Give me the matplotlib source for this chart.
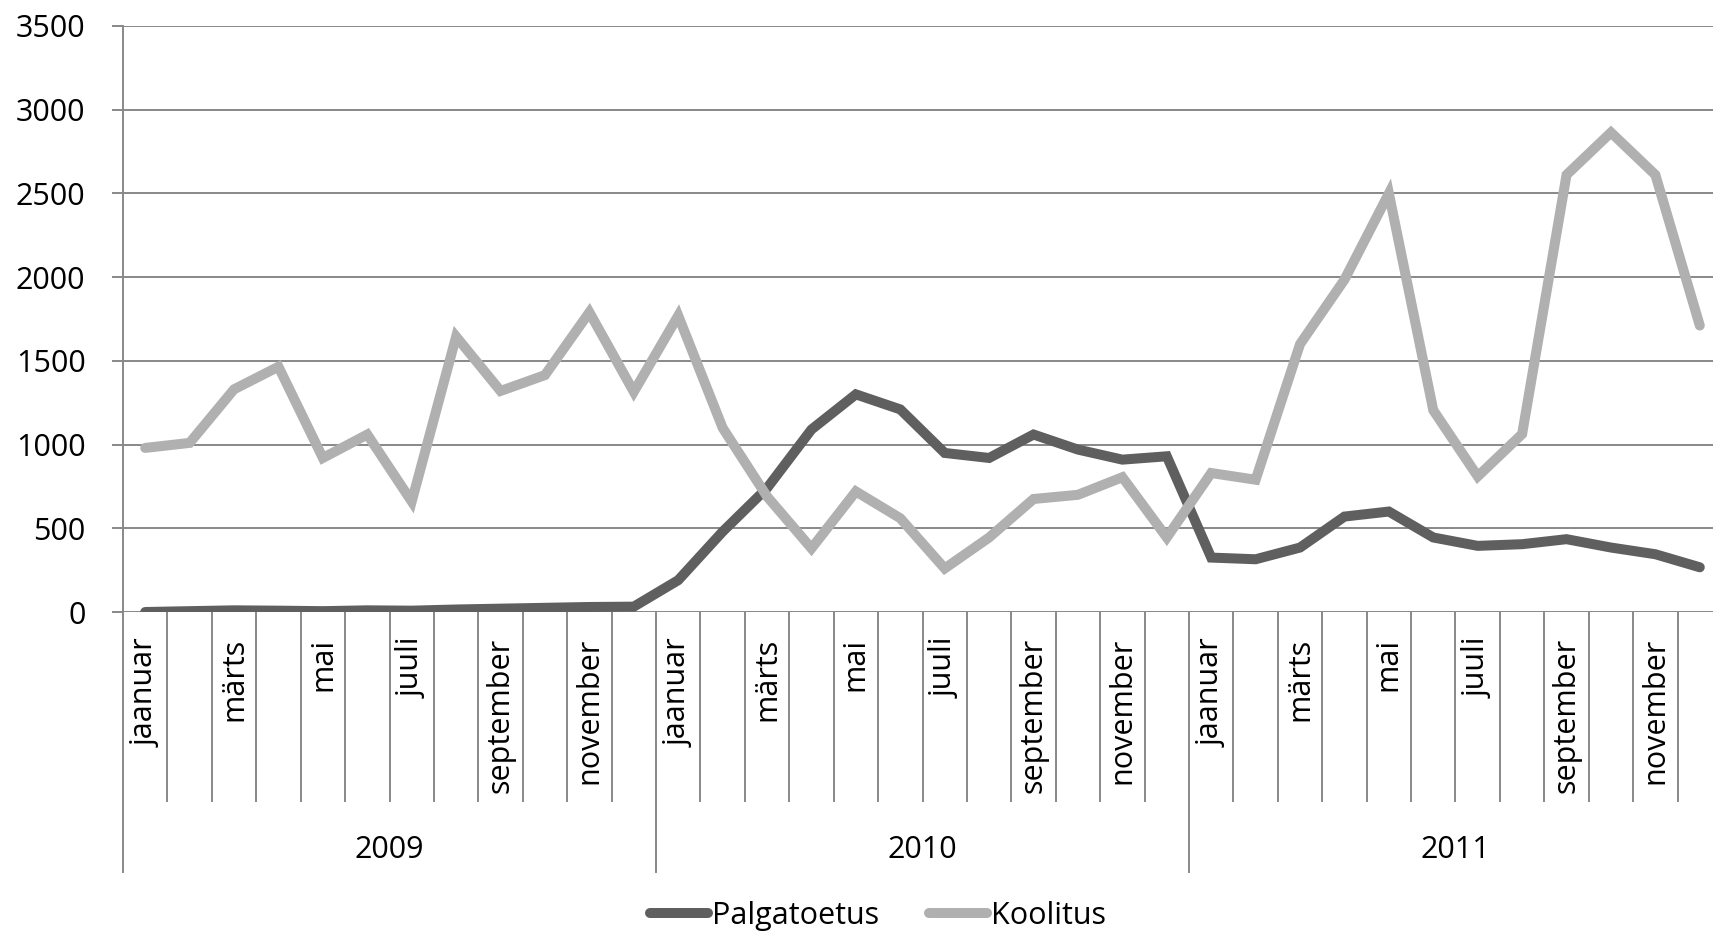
import numpy as np
import matplotlib
matplotlib.use("Agg")
import matplotlib.pyplot as plt
from matplotlib.lines import Line2D

plt.rcParams["font.family"] = ["Open Sans", "DejaVu Sans"]

# ── Data ─────────────────────────────────────────────────────────────────────
years = ["2009", "2010", "2011"]
months = ["jaanuar", "veebruar", "märts", "aprill", "mai", "juuni",
          "juuli", "august", "september", "oktoober", "november", "detsember"]
shown_months = ["jaanuar", "märts", "mai", "juuli", "september", "november"]

palgatoetus = [
    0, 5, 10, 8, 5, 10, 8, 15, 20, 25, 30, 32,
    190, 480, 740, 1090, 1300, 1210, 950, 920, 1060, 970, 910, 930,
    325, 315, 385, 570, 600, 445, 395, 405, 435, 385, 345, 267,
]
koolitus = [
    980, 1010, 1330, 1465, 920, 1060, 660, 1645, 1320, 1415, 1790, 1315,
    1770, 1100, 690, 380, 720, 560, 260, 445, 675, 700, 805, 445,
    830, 790, 1600, 1985, 2500, 1205, 810, 1063, 2611, 2864, 2611, 1711,
]

C_DARK = "#5f5f5f"
C_LIGHT = "#b0b0b0"
C_GRID = "#888888"

W, H = 1713, 934
fig = plt.figure(figsize=(W / 100, H / 100), dpi=100)

# axes in pixel geometry of the reference
ax_left, ax_right, ax_top, ax_bottom = 123, 1722, 26, 612
ax = fig.add_axes([ax_left / W, 1 - ax_bottom / H,
                   (ax_right - ax_left) / W, (ax_bottom - ax_top) / H])


def py(y_px):
    """pixel row -> axes fraction (y)"""
    return (ax_bottom - y_px) / (ax_bottom - ax_top)


n = len(palgatoetus)
x = np.arange(n)
ax.plot(x, palgatoetus, color=C_DARK, lw=7.2, solid_capstyle="round",
        solid_joinstyle="miter", label="Palgatoetus", zorder=3)
ax.plot(x, koolitus, color=C_LIGHT, lw=7.2, solid_capstyle="round",
        solid_joinstyle="miter", label="Koolitus", zorder=4)

ax.set_xlim(-0.5, n - 0.5)
ax.set_ylim(0, 3500)
ax.set_yticks(np.arange(0, 3501, 500))
ax.yaxis.grid(True, color=C_GRID, lw=1.4)
ax.set_axisbelow(True)
for s in ["top", "right", "bottom"]:
    ax.spines[s].set_visible(False)
ax.spines["left"].set_color(C_GRID)
ax.spines["left"].set_linewidth(1.4)
ax.tick_params(axis="y", length=8, width=1.4, color=C_GRID, pad=19,
               labelsize=22)
ax.set_xticks([])

# ── category axis (months + years) ───────────────────────────────────────────
trans = ax.get_xaxis_transform()
for k in range(n + 1):
    is_year = k % 12 == 0
    y_end = py(872) if is_year else py(801)
    ax.add_line(Line2D([k - 0.5, k - 0.5], [0, y_end], transform=trans,
                       color=C_GRID, lw=1.4, clip_on=False))

for yi, yr in enumerate(years):
    for mi, m in enumerate(months):
        if m in shown_months:
            ax.text(yi * 12 + mi, py(638), m, transform=trans, rotation=90,
                    ha="center", va="top", fontsize=22)
    ax.text(yi * 12 + 5.5, py(850), yr, transform=trans, ha="center",
            va="center", fontsize=22)

# ── legend ──────────────────────────────────────────────────────────────────
fig.legend(loc="center", bbox_to_anchor=(878 / W, 1 - 916 / H), ncol=2,
           frameon=False, fontsize=22, handlelength=1.9, handletextpad=0.15,
           columnspacing=1.6)

fig.savefig("out.png", dpi=100)
